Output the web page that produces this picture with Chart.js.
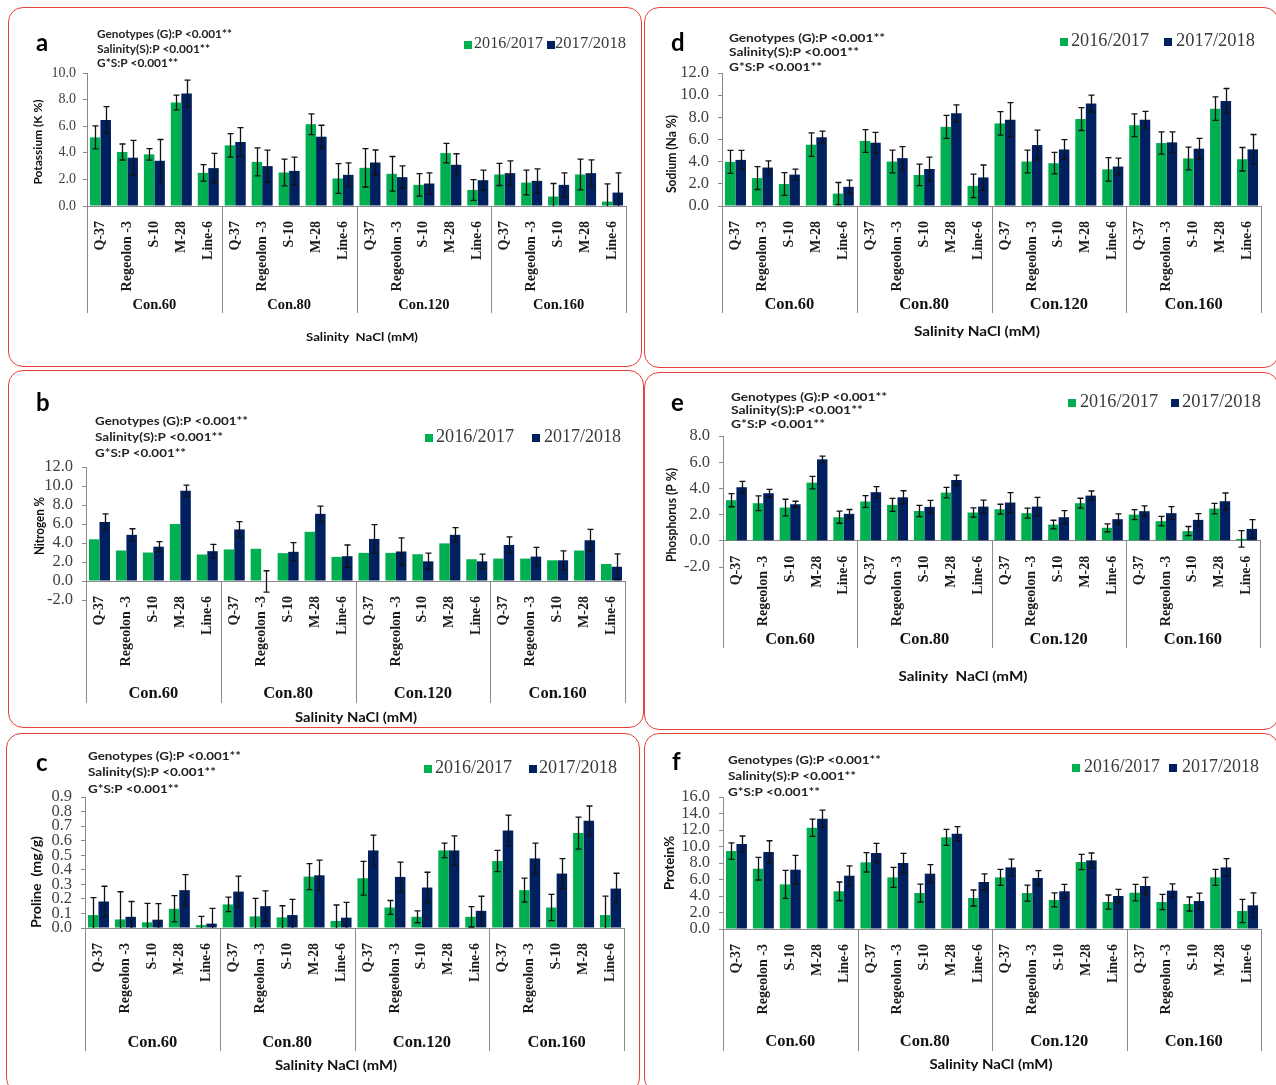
<!DOCTYPE html>
<html>
<head>
<meta charset="utf-8">
<title>Salinity effects on genotypes</title>
<script src="https://cdn.jsdelivr.net/npm/chart.js@4.4.1/dist/chart.umd.min.js"></script>
<style>
  html, body { margin: 0; padding: 0; background: #fff; }
  #page { position: relative; width: 1276px; height: 1085px; overflow: hidden; background: #fff; }
  .frame { position: absolute; border: 1.6px solid #e8403e; border-radius: 15px; box-sizing: border-box; }
  #page canvas { position: absolute; left: 0; top: 0; }
</style>
</head>
<body>
<div id="page"></div>
<script>
// ---- categories ----
const genotypes = ['Q-37', 'Regeolon -3', 'S-10', 'M-28', 'Line-6'];
const concentrations = ['Con.60', 'Con.80', 'Con.120', 'Con.160'];
const seasons = ['2016/2017', '2017/2018'];
const seasonColors = ['#00b050', '#002060'];
const statLines = ['Genotypes (G):P <0.001**', 'Salinity(S):P <0.001**', 'G*S:P <0.001**'];

// ---- values, ordered Con.60 .. Con.160, each with the five genotypes ----
const potassium2016    = [5.16, 4.06, 3.88, 7.78, 2.49, 4.56, 3.32, 2.52, 6.15, 2.07, 2.87, 2.42, 1.59, 3.98, 1.21, 2.37, 1.76, 0.71, 2.37, 0.33];
const potassium2016Err = [0.86, 0.60, 0.43, 0.55, 0.62, 0.88, 1.05, 1.00, 0.78, 1.12, 1.44, 1.30, 0.85, 0.73, 0.78, 0.83, 0.93, 0.98, 1.16, 1.33];
const potassium2018    = [6.47, 3.63, 3.40, 8.46, 2.85, 4.81, 3.00, 2.64, 5.21, 2.34, 3.27, 2.17, 1.69, 3.10, 1.94, 2.47, 1.89, 1.59, 2.47, 1.01];
const potassium2018Err = [1.00, 1.30, 1.60, 1.00, 1.10, 1.08, 1.20, 1.04, 0.86, 0.90, 0.94, 0.84, 0.80, 0.83, 0.76, 0.93, 0.90, 0.90, 1.00, 1.48];

const sodium2016    = [3.98, 2.52, 1.98, 5.53, 1.12, 5.87, 4.01, 2.80, 7.14, 1.82, 7.45, 4.01, 3.86, 7.84, 3.31, 7.29, 5.68, 4.29, 8.78, 4.22];
const sodium2016Err = [1.03, 1.03, 1.03, 1.06, 1.00, 1.03, 1.03, 0.97, 1.03, 1.06, 1.06, 1.03, 0.97, 1.03, 1.06, 1.03, 1.00, 1.03, 1.06, 1.06];
const sodium2018    = [4.16, 3.47, 2.83, 6.20, 1.73, 5.71, 4.32, 3.34, 8.36, 2.58, 7.78, 5.50, 5.10, 9.24, 3.56, 7.78, 5.74, 5.17, 9.48, 5.11];
const sodium2018Err = [0.85, 0.60, 0.50, 0.55, 0.60, 0.94, 1.03, 1.07, 0.76, 1.12, 1.55, 1.34, 0.88, 0.76, 0.76, 0.76, 0.94, 0.94, 1.12, 1.34];

const nitrogen2016    = [4.39, 3.21, 3.00, 6.00, 2.79, 3.32, 3.39, 2.93, 5.18, 2.54, 2.96, 2.96, 2.82, 3.96, 2.29, 2.36, 2.36, 2.18, 3.21, 1.79];
const nitrogen2018    = [6.21, 4.86, 3.61, 9.50, 3.14, 5.43, -0.05, 3.07, 7.07, 2.61, 4.43, 3.11, 2.07, 4.86, 2.07, 3.79, 2.57, 2.18, 4.29, 1.50];
const nitrogen2018Err = [0.86, 0.64, 0.53, 0.60, 0.71, 0.82, 1.13, 0.96, 0.82, 1.18, 1.50, 1.43, 0.86, 0.75, 0.75, 0.86, 0.96, 1.00, 1.14, 1.36];

const phosphorus2016    = [3.10, 2.87, 2.54, 4.44, 1.80, 3.00, 2.74, 2.28, 3.68, 2.16, 2.41, 2.11, 1.24, 2.87, 0.99, 2.00, 1.50, 0.74, 2.46, 0.15];
const phosphorus2016Err = [0.50, 0.56, 0.63, 0.48, 0.46, 0.45, 0.50, 0.43, 0.40, 0.36, 0.38, 0.38, 0.33, 0.38, 0.30, 0.38, 0.36, 0.35, 0.40, 0.63];
const phosphorus2018    = [4.09, 3.63, 2.79, 6.22, 2.06, 3.71, 3.32, 2.59, 4.64, 2.61, 2.92, 2.61, 1.80, 3.45, 1.65, 2.26, 2.11, 1.60, 3.02, 0.91];
const phosphorus2018Err = [0.45, 0.30, 0.23, 0.25, 0.33, 0.43, 0.50, 0.50, 0.38, 0.50, 0.76, 0.70, 0.50, 0.35, 0.40, 0.40, 0.50, 0.48, 0.63, 0.71];

const proline2016    = [0.089, 0.059, 0.039, 0.132, 0.020, 0.162, 0.080, 0.073, 0.353, 0.048, 0.342, 0.141, 0.077, 0.533, 0.077, 0.460, 0.260, 0.141, 0.652, 0.089];
const proline2016Err = [0.120, 0.190, 0.130, 0.090, 0.060, 0.050, 0.123, 0.080, 0.089, 0.110, 0.116, 0.048, 0.041, 0.050, 0.070, 0.073, 0.082, 0.090, 0.110, 0.130];
const proline2018    = [0.182, 0.077, 0.057, 0.260, 0.030, 0.250, 0.150, 0.089, 0.362, 0.071, 0.533, 0.351, 0.278, 0.533, 0.118, 0.670, 0.478, 0.374, 0.736, 0.271];
const proline2018Err = [0.105, 0.105, 0.110, 0.107, 0.105, 0.107, 0.105, 0.107, 0.105, 0.105, 0.105, 0.102, 0.105, 0.100, 0.100, 0.105, 0.105, 0.102, 0.102, 0.105];

const protein2016    = [9.45, 7.31, 5.41, 12.28, 4.57, 8.08, 6.26, 4.36, 11.11, 3.76, 6.26, 4.36, 3.52, 8.12, 3.27, 4.40, 3.27, 3.03, 6.26, 2.18];
const protein2016Err = [1.00, 1.37, 1.70, 1.05, 1.13, 1.17, 1.21, 1.09, 0.97, 0.97, 0.97, 0.97, 0.85, 0.93, 0.85, 1.00, 0.93, 0.85, 0.97, 1.41];
const protein2018    = [10.30, 9.33, 7.19, 13.37, 6.46, 9.21, 8.00, 6.71, 11.56, 5.70, 7.47, 6.18, 4.57, 8.32, 4.00, 5.21, 4.65, 3.39, 7.47, 2.87];
const protein2018Err = [0.97, 1.37, 1.74, 1.05, 1.20, 1.17, 1.17, 1.09, 0.85, 0.97, 1.00, 0.89, 0.85, 0.89, 0.81, 1.05, 0.81, 0.97, 1.05, 1.50];

// ---- value-axis ranges: [min, max, step] ----
const potassiumTicks  = [0, 10, 2];
const sodiumTicks     = [0, 12, 2];
const nitrogenTicks   = [-2, 12, 2];
const phosphorusTicks = [-2, 8, 2];
const prolineTicks    = [0, 0.9, 0.1];
const proteinTicks    = [0, 16, 2];

const categoryLabels = concentrations.flatMap(() => genotypes);

const PAGE_W = 1276, PAGE_H = 1085, Y_AXIS_W = 60;
const AXIS_GREY = '#8a8a8a';
const SANS = 'Lato, "Open Sans", sans-serif';
const SERIF = '"Liberation Serif", "DejaVu Serif", serif';

// rounded red frames around the six panels
const frames = [
  [8, 7, 642, 367], [644, 7, 1279, 368],
  [8, 370, 644, 728], [644, 372, 1279, 730],
  [6, 733, 640, 1093], [644, 733, 1279, 1093]
];

// layout of each panel (page pixels)
const panels = [
  { values: [potassium2016, potassium2018], errors: [potassium2016Err, potassium2018Err], ticks: potassiumTicks,
    area: { left: 87, right: 626, top: 73, bottom: 206 }, tickSize: 14, tickPad: 7, catSize: 14,
    groupSize: 14.5, groupY: 305, sepBottom: 313,
    letter: { text: 'a', x: 36, y: 51 },
    stats: { x: 97, y: [34, 49, 63], w: [135, 113, 81], size: 11 },
    legend: { y: 44, size: 16, items: [{ sq: 464, tx: 474, w: 69 }, { sq: 547, tx: 555, w: 71 }] },
    yTitle: { text: 'Potassium (K %)', x: 38, y: 142, len: 85 },
    xTitle: { text: 'Salinity  NaCl (mM)', x: 362, y: 337, w: 112 }, titleSize: 12 },
  { values: [sodium2016, sodium2018], errors: [sodium2016Err, sodium2018Err], ticks: sodiumTicks,
    area: { left: 722, right: 1261, top: 73, bottom: 206 }, tickSize: 16.5, tickPad: 9, catSize: 14,
    groupSize: 16.5, groupY: 305, sepBottom: 313,
    letter: { text: 'd', x: 671, y: 51 },
    stats: { x: 729, y: [38, 52, 67], w: [156, 130, 93], size: 12 },
    legend: { y: 41, size: 18, items: [{ sq: 1060, tx: 1071, w: 78 }, { sq: 1164, tx: 1176, w: 79 }] },
    yTitle: { text: 'Sodium (Na %)', x: 672, y: 154, len: 78 },
    xTitle: { text: 'Salinity NaCl (mM)', x: 977, y: 332, w: 126 }, titleSize: 12.5 },
  { values: [nitrogen2016, nitrogen2018], errors: [null, nitrogen2018Err], ticks: nitrogenTicks,
    area: { left: 86, right: 625, top: 467, bottom: 600 }, tickSize: 16.5, tickPad: 9, catSize: 14,
    groupSize: 16.5, groupY: 694, sepBottom: 703,
    letter: { text: 'b', x: 36, y: 411 },
    stats: { x: 95, y: [421, 437, 453], w: [153, 128, 91], size: 12 },
    legend: { y: 437, size: 18, items: [{ sq: 425, tx: 436, w: 78 }, { sq: 532, tx: 544, w: 77 }] },
    yTitle: { text: 'Nitrogen %', x: 40, y: 526, len: 58 },
    xTitle: { text: 'Salinity NaCl (mM)', x: 356, y: 718, w: 122 }, titleSize: 12.5 },
  { values: [phosphorus2016, phosphorus2018], errors: [phosphorus2016Err, phosphorus2018Err], ticks: phosphorusTicks,
    area: { left: 723, right: 1260, top: 436, bottom: 567 }, tickSize: 16.5, tickPad: 9, catSize: 14,
    groupSize: 16.5, groupY: 640, sepBottom: 648,
    letter: { text: 'e', x: 671, y: 411 },
    stats: { x: 731, y: [397, 410, 424], w: [156, 132, 94], size: 12 },
    legend: { y: 402, size: 18, items: [{ sq: 1068, tx: 1080, w: 78 }, { sq: 1171, tx: 1182, w: 79 }] },
    yTitle: { text: 'Phosphorus (P %)', x: 672, y: 515, len: 94 },
    xTitle: { text: 'Salinity  NaCl (mM)', x: 963, y: 677, w: 129 }, titleSize: 12.5 },
  { values: [proline2016, proline2018], errors: [proline2016Err, proline2018Err], ticks: prolineTicks,
    area: { left: 85, right: 624, top: 797, bottom: 928 }, tickSize: 16.5, tickPad: 9, catSize: 14,
    groupSize: 16.5, groupY: 1043, sepBottom: 1051,
    letter: { text: 'c', x: 36, y: 771 },
    stats: { x: 88, y: [756, 772, 789], w: [153, 128, 91], size: 12 },
    legend: { y: 768, size: 18, items: [{ sq: 424, tx: 435, w: 77 }, { sq: 529, tx: 539, w: 78 }] },
    yTitle: { text: 'Proline  (mg/g)', x: 37, y: 882, len: 92 },
    xTitle: { text: 'Salinity NaCl (mM)', x: 336, y: 1066, w: 122 }, titleSize: 12.5 },
  { values: [protein2016, protein2018], errors: [protein2016Err, protein2018Err], ticks: proteinTicks,
    area: { left: 723, right: 1261, top: 797, bottom: 929 }, tickSize: 16.5, tickPad: 9, catSize: 14,
    groupSize: 16.5, groupY: 1042, sepBottom: 1051,
    letter: { text: 'f', x: 672, y: 770 },
    stats: { x: 728, y: [760, 776, 792], w: [153, 128, 92], size: 12 },
    legend: { y: 767, size: 18, items: [{ sq: 1072, tx: 1084, w: 76 }, { sq: 1169, tx: 1182, w: 77 }] },
    yTitle: { text: 'Protein%', x: 670, y: 863, len: 54 },
    xTitle: { text: 'Salinity NaCl (mM)', x: 991, y: 1065, w: 123 }, titleSize: 12.5 }
];

// draws a text string stretched/condensed horizontally to a target width
function drawText(ctx, str, x, y, opt) {
  ctx.save();
  ctx.font = opt.font;
  ctx.fillStyle = opt.color || '#000';
  ctx.textBaseline = opt.baseline || 'middle';
  const w = ctx.measureText(str).width;
  const sx = opt.width ? opt.width / w : 1;
  ctx.translate(x, y);
  if (opt.rotate) ctx.rotate(opt.rotate);
  ctx.scale(sx, 1);
  const align = opt.align || 'left';
  const dx = align === 'center' ? -w / 2 : align === 'right' ? -w : 0;
  ctx.fillText(str, dx, 0);
  ctx.restore();
}

// standard-deviation whiskers on top of the bars, kept inside the plot area
const errorBars = {
  id: 'errorBars',
  afterDatasetsDraw(chart) {
    const ctx = chart.ctx;
    const yScale = chart.scales.y;
    const a = chart.chartArea;
    chart.data.datasets.forEach((ds, i) => {
      if (!ds.errors) return;
      const meta = chart.getDatasetMeta(i);
      ctx.save();
      ctx.beginPath();
      ctx.rect(a.left - 10, a.top - 10, a.right - a.left + 20, a.bottom - a.top + 10);
      ctx.clip();
      ctx.strokeStyle = '#111';
      ctx.lineWidth = 1.3;
      meta.data.forEach((bar, j) => {
        const e = ds.errors[j];
        if (e == null) return;
        const v = ds.data[j];
        const top = yScale.getPixelForValue(v + e);
        const bot = yScale.getPixelForValue(v - e);
        const x = Math.round(bar.x) + 0.5;
        ctx.beginPath();
        ctx.moveTo(x, top); ctx.lineTo(x, bot);
        ctx.moveTo(x - 3, top); ctx.lineTo(x + 3, top);
        ctx.moveTo(x - 3, bot); ctx.lineTo(x + 3, bot);
        ctx.stroke();
      });
      ctx.restore();
    });
  }
};

// panel letter, statistics, legend, group axis level and axis titles
function panelDecor(p) {
  return {
    id: 'panelDecor',
    afterDraw(chart) {
      const ctx = chart.ctx;
      const xs = chart.scales.x, ys = chart.scales.y, area = chart.chartArea;

      drawText(ctx, p.letter.text, p.letter.x, p.letter.y, { font: 'bold 24px ' + SANS, baseline: 'alphabetic' });

      statLines.forEach((t, i) => drawText(ctx, t, p.stats.x, p.stats.y[i],
        { font: 'bold ' + p.stats.size + 'px ' + SANS, color: '#222', width: p.stats.w[i] }));

      p.legend.items.forEach((it, i) => {
        ctx.fillStyle = seasonColors[i];
        ctx.fillRect(it.sq, p.legend.y - 3, 8, 8);
        drawText(ctx, seasons[i], it.tx, p.legend.y, { font: p.legend.size + 'px ' + SERIF, color: '#3a3a3a', width: it.w });
      });

      // second category level: concentration groups with separators
      const n = genotypes.length;
      const zero = ys.getPixelForValue(0);
      const bounds = [area.left];
      for (let g = 1; g < concentrations.length; g++) {
        bounds.push((xs.getPixelForValue(g * n - 1) + xs.getPixelForValue(g * n)) / 2);
      }
      bounds.push(area.right);
      ctx.save();
      ctx.strokeStyle = AXIS_GREY;
      ctx.lineWidth = 1;
      bounds.forEach(bx => {
        const x = Math.round(bx) + 0.5;
        ctx.beginPath(); ctx.moveTo(x, zero); ctx.lineTo(x, p.sepBottom); ctx.stroke();
      });
      ctx.restore();
      concentrations.forEach((c, g) => {
        const cx = (xs.getPixelForValue(g * n) + xs.getPixelForValue(g * n + n - 1)) / 2;
        drawText(ctx, c, cx, p.groupY, { font: 'bold ' + p.groupSize + 'px ' + SERIF, color: '#111', align: 'center' });
      });

      drawText(ctx, p.yTitle.text, p.yTitle.x, p.yTitle.y,
        { font: 'bold ' + p.titleSize + 'px ' + SANS, color: '#111', align: 'center', rotate: -Math.PI / 2, width: p.yTitle.len });
      drawText(ctx, p.xTitle.text, p.xTitle.x, p.xTitle.y,
        { font: 'bold ' + p.titleSize + 'px ' + SANS, color: '#111', align: 'center', width: p.xTitle.w });
    }
  };
}

const page = document.getElementById('page');

frames.forEach(([l, t, r, b]) => {
  const d = document.createElement('div');
  d.className = 'frame';
  d.style.left = l + 'px'; d.style.top = t + 'px';
  d.style.width = (r - l) + 'px'; d.style.height = (b - t) + 'px';
  page.appendChild(d);
});

panels.forEach(p => {
  const canvas = document.createElement('canvas');
  canvas.width = PAGE_W; canvas.height = PAGE_H;
  canvas.style.width = PAGE_W + 'px'; canvas.style.height = PAGE_H + 'px';
  page.appendChild(canvas);
  const [yMin, yMax, yStep] = p.ticks;
  new Chart(canvas, {
    type: 'bar',
    data: {
      labels: categoryLabels,
      datasets: seasons.map((s, i) => ({
        label: s,
        data: p.values[i],
        errors: p.errors[i],
        backgroundColor: seasonColors[i],
        borderWidth: 0,
        categoryPercentage: 0.78,
        barPercentage: 1.0
      }))
    },
    options: {
      responsive: false,
      animation: false,
      devicePixelRatio: 1,
      events: [],
      layout: { padding: {
        left: p.area.left - Y_AXIS_W, top: p.area.top,
        right: PAGE_W - p.area.right, bottom: PAGE_H - p.area.bottom } },
      plugins: { legend: { display: false }, tooltip: { enabled: false } },
      scales: {
        x: {
          position: { y: 0 },
          offset: true,
          grid: { display: false },
          border: { display: true, color: AXIS_GREY, width: 1 },
          ticks: {
            autoSkip: false, minRotation: 90, maxRotation: 90, padding: 7,
            font: { family: SERIF, size: p.catSize, weight: 'bold' }, color: '#1a1a1a'
          }
        },
        y: {
          min: yMin, max: yMax,
          grid: { display: true, drawOnChartArea: false, drawTicks: true, tickLength: 4, color: AXIS_GREY },
          border: { display: true, color: AXIS_GREY, width: 1 },
          ticks: {
            stepSize: yStep, padding: p.tickPad, autoSkip: false,
            font: { family: SERIF, size: p.tickSize }, color: '#404040',
            callback: v => Number(v).toFixed(1)
          },
          afterFit: s => { s.width = Y_AXIS_W; }
        }
      }
    },
    plugins: [errorBars, panelDecor(p)]
  });
});
</script>
</body>
</html>
